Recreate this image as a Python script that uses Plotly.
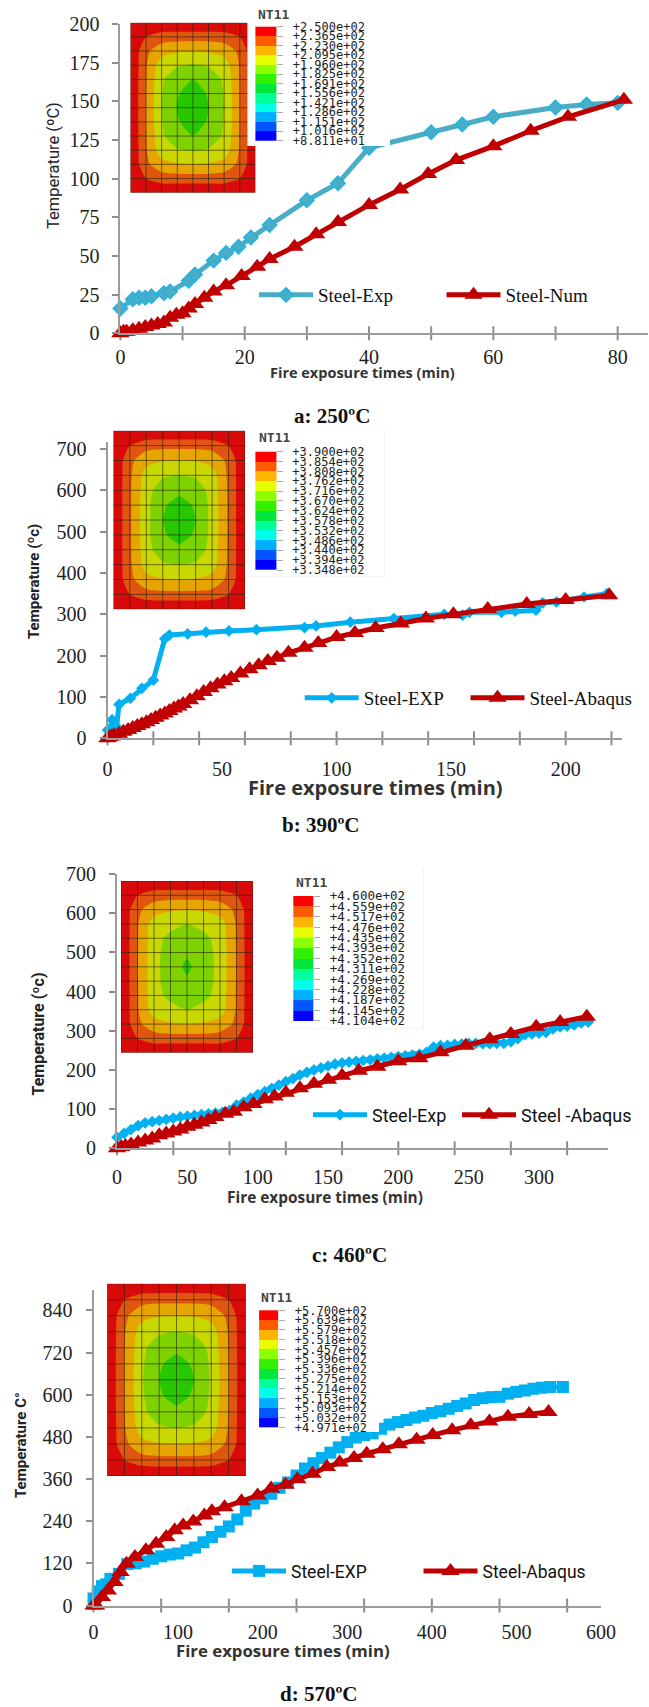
import plotly.graph_objects as go

W, H = 649, 1707

# ---------- data ----------
a_exp_t = [0,2,3,4,5,7,8,11,12,15,17,19,21,24,30,35,40,50,55,60,70,75,80]
a_exp_v = [16,22,23,23,24,26,27,34,38,47,52,56,62,70,86,97,120,130,135,140,146,148,149]
a_num_t = [0,0.5,1,2,3,4,5,6,7,8,9,10,11,12,13.5,15,17,19.5,22,24,28,31.5,35,40,45,49.5,54,60,66,72,81]
a_num_v = [0,1,1,2,3,4,5,6,7,10,12,13,16,19,23,27,31,37,43,48,56,64,72,83,93,103,112,121,131,140,151]

b_exp_t = [0,1,2,3,4,5,10,15,20,25,27,35,43,53,65,86,91,106,125,147,155,158,172,178,187,190,196,208,218]
b_exp_v = [20,22,45,25,28,82,97,121,141,241,250,253,257,260,263,268,272,281,290,300,298,305,305,308,310,328,330,342,350]
b_num_t = [0,1,2,3,5,7,9,11,13,15,17,19,21,23,25,27,29,31,33,36,39,42,45,48,51,54,58,62,66,70,74,79,86,92,100,108,117,128,139,151,166,183,200,219]
b_num_v = [0,3,5,7,11,16,20,25,30,34,39,44,50,55,60,66,72,77,83,92,102,112,121,130,138,146,157,167,177,187,195,207,219,231,245,255,267,278,290,300,313,325,335,346]

c_exp_t = [0,5,10,15,20,25,30,35,40,45,50,55,60,65,70,75,80,85,90,95,100,105,110,115,120,125,130,135,140,145,150,155,160,165,170,175,180,185,190,195,200,205,210,215,220,225,230,235,240,245,250,255,260,265,270,275,280,285,290,295,300,305,310,315,320,325,330,335]
c_exp_v = [28,38,48,58,65,68,71,74,77,80,82,84,86,88,90,92,97,110,118,128,137,145,153,161,170,178,187,194,200,205,210,215,218,220,222,224,226,228,230,232,234,236,238,240,245,258,262,263,265,266,268,268,267,267,268,268,272,280,290,292,294,296,305,310,312,315,320,322]
c_num_t = [0,3,6,10,15,20,25,30,35,40,45,50,55,60,65,70,77,83,90,97,105,112,120,130,140,150,160,172,185,200,215,230,248,265,280,298,315,334]
c_num_v = [0,3,6,10,15,20,25,33,38,43,48,55,60,66,72,80,88,93,105,113,125,132,142,153,165,175,185,198,208,222,230,245,262,278,292,310,322,336]

d_exp_t = [0,5,10,15,20,30,40,50,60,70,80,90,100,110,120,130,140,150,160,170,180,190,200,210,220,230,240,250,260,270,280,290,300,310,320,330,340,350,360,370,380,390,400,410,420,430,440,450,460,470,480,490,500,510,520,530,540,555]
d_exp_v = [20,40,55,60,76,90,118,120,125,133,140,145,148,157,165,180,195,210,225,245,270,290,305,318,335,350,370,390,405,420,435,450,465,478,485,490,503,515,522,528,535,540,548,553,560,568,575,585,590,593,594,603,608,612,617,620,622,622]
d_num_t = [0,3,10,17,25,32,39,49,62,74,86,96,106,118,131,140,155,175,194,210,227,241,259,276,291,308,323,342,361,382,401,424,446,468,490,515,538]
d_num_v = [0,0,24,43,67,95,119,138,157,176,195,214,228,239,256,268,280,297,313,333,344,359,375,394,407,420,432,445,459,472,485,499,513,524,537,545,551]

# legend scales (top to bottom)
a_scale = ["+2.500e+02","+2.365e+02","+2.230e+02","+2.095e+02","+1.960e+02","+1.825e+02","+1.691e+02","+1.556e+02","+1.421e+02","+1.286e+02","+1.151e+02","+1.016e+02","+8.811e+01"]
b_scale = ["+3.900e+02","+3.854e+02","+3.808e+02","+3.762e+02","+3.716e+02","+3.670e+02","+3.624e+02","+3.578e+02","+3.532e+02","+3.486e+02","+3.440e+02","+3.394e+02","+3.348e+02"]
c_scale = ["+4.600e+02","+4.559e+02","+4.517e+02","+4.476e+02","+4.435e+02","+4.393e+02","+4.352e+02","+4.311e+02","+4.269e+02","+4.228e+02","+4.187e+02","+4.145e+02","+4.104e+02"]
d_scale = ["+5.700e+02","+5.639e+02","+5.579e+02","+5.518e+02","+5.457e+02","+5.396e+02","+5.336e+02","+5.275e+02","+5.214e+02","+5.153e+02","+5.093e+02","+5.032e+02","+4.971e+02"]
band_colors = ["#ff0000","#ff5a00","#ffb400","#e6ff00","#8cff00","#32f000","#00e63c","#00ff96","#00ffe6","#00afff","#0055ff","#0000ff"]
band_index = [[0],[1],[2],[3],[4],[5],[6],[7],[8],[9],[10],[11]]

# section temperature bands read at mesh nodes (quarter section, edge to centre)
a_field = [[-.5,-.5,-.5,-.5,-.5],
           [-.5,.5,1.02,1.06,1.06],
           [-.5,1.3,2.1,2.4,2.45],
           [-.5,1.42,3.1,3.4,3.6],
           [-.5,1.47,3.35,4.2,4.5],
           [-.5,1.5,3.45,4.4,5.0],
           [-.5,1.5,3.5,4.55,5.4]]
b_field = [[-.5,-.5,-.5,-.5,-.5],
           [-.5,.5,1.12,1.2,1.2],
           [-.5,1.25,2.2,2.45,2.5],
           [-.5,1.32,2.95,3.35,3.5],
           [-.5,1.35,3.1,4.1,4.3],
           [-.5,1.35,3.2,4.4,4.8],
           [-.5,1.35,3.2,4.5,5.2]]
c_field = [[-.5,-.5,-.5,-.5,-.5],
           [-.5,.5,1.05,1.07,1.07],
           [-.5,1.3,2.05,2.4,2.48],
           [-.5,1.4,3.05,3.2,3.5],
           [-.5,1.42,3.15,3.75,3.95],
           [-.5,1.45,3.2,3.95,4.35],
           [-.5,1.45,3.2,4.0,4.7]]
d_field = [[-.5,-.5,-.5,-.5,-.5],
           [-.5,.5,1.12,1.2,1.2],
           [-.5,1.28,2.2,2.45,2.5],
           [-.5,1.42,3.0,3.35,3.5],
           [-.5,1.47,3.25,4.1,4.3],
           [-.5,1.5,3.35,4.4,4.8],
           [-.5,1.5,3.4,4.5,5.2]]
field_colors = ["#d80a0a","#e0550f","#e6a500","#c8d800","#7dd200","#28c800"]

RED = "#c00000"
SERIF = "Liberation Serif"
MONO = "DejaVu Sans Mono"

panels = [
 dict(key="a", exp=(a_exp_t,a_exp_v), num=(a_num_t,a_num_v), names=("Steel-Exp","Steel-Num"),
      X=(120.4,647.5), Y=(24,333.3), xr=(0,84.8), yr=(0,200),
      xmajor=[0,20,40,60,80], xticks=list(range(0,81,10)), ymajor=[0,25,50,75,100,125,150,175,200],
      exp_color="#4bacc6", mk_line="#1fb4e4", symbol="diamond", msize=11, tri=16, lw=5, tick=20, standoff=15, xstand=5,
      xt=("Fire exposure times (min)",362,373,14.5,True), yt=("Temperature (ºC)",54,166,16.5,False),
      cap=("a: 250ºC",332,415.7), leg=[(254,295),(441.5,295)], legfont=(SERIF,19),
      panel=((130.4,255.4),(22.7,192.7)), field=a_field, box=(255.4,276.3,26.7,140.7), white=(247.5,390,0,146), scale=a_scale,
      nt=(256,14), mono=12, frame=False),
 dict(key="b", exp=(b_exp_t,b_exp_v), num=(b_num_t,b_num_v), names=("Steel-EXP","Steel-Abaqus"),
      X=(107.5,622), Y=(441.7,738.3), xr=(0,224.6), yr=(0,718),
      xmajor=[0,50,100,150,200], xticks=list(range(0,221,20)), ymajor=[0,100,200,300,400,500,600,700],
      exp_color="#00b0f0", mk_line="#00b0f0", symbol="diamond", msize=9, tri=16, lw=5, tick=20, standoff=15, xstand=12,
      xt=("Fire exposure times (min)",375.7,787,20,True), yt=("Temperature (ºc)",34,582,15,True),
      cap=("b: 390ºC",321,825), leg=[(299.7,698),(465.5,698)], legfont=(SERIF,19),
      panel=((113.4,245),(430.7,609.3)), field=b_field, box=(255.4,275.9,451.7,570), white=(247.5,384.6,430,577), scale=b_scale,
      nt=(257,438), mono=12, frame=True),
 dict(key="c", exp=(c_exp_t,c_exp_v), num=(c_num_t,c_num_v), names=("Steel-Exp","Steel -Abaqus"),
      X=(117,607.5), Y=(874,1148.3), xr=(0,348.7), yr=(0,700),
      xmajor=[0,50,100,150,200,250,300,350], xticks=list(range(0,321,40)), ymajor=[0,100,200,300,400,500,600,700],
      exp_color="#00b0f0", mk_line="#00b0f0", symbol="diamond", msize=9, tri=16, lw=5, tick=20, standoff=15, xstand=10,
      xt=("Fire exposure times (min)",325,1197,15.4,True), yt=("Temperature (ºc)",37.5,1034,16,True),
      cap=("c: 460ºC",349,1255), leg=[(308,1115),(457,1115)], legfont=("Roboto",18),
      panel=((121,253),(881,1052.7)), field=c_field, box=(293.3,313.3,896,1020.7), white=(289,424,868,1029), scale=c_scale,
      nt=(294,882.7), mono=12.5, frame=True),
 dict(key="d", exp=(d_exp_t,d_exp_v), num=(d_num_t,d_num_v), names=("Steel-EXP","Steel-Abaqus"),
      X=(93.5,601), Y=(1290,1605.5), xr=(0,600), yr=(0,898),
      xmajor=[0,100,200,300,400,500,600], xticks=list(range(0,561,80)), ymajor=[0,120,240,360,480,600,720,840],
      exp_color="#00b0f0", mk_line="#00b0f0", symbol="square", msize=12, tri=16, lw=5, tick=20, standoff=15, xstand=7,
      xt=("Fire exposure times (min)",283,1650.5,16.8,True), yt=("Temperature C°",21,1445,15,True),
      cap=("d: 570ºC",319,1693.5), leg=[(227,1571),(418.5,1571)], legfont=("Roboto",17.5),
      panel=((107.1,245.9),(1283.7,1476)), field=d_field, box=(259.1,278.4,1310.3,1427.7), white=(250,379,1283,1432), scale=d_scale,
      nt=(259.1,1297), mono=12, frame=False),
]

def dx(a, b): return [a / W, b / W]
def dy(top, bot): return [1 - bot / H, 1 - top / H]

fig = go.Figure()
layout = dict(width=W, height=H, margin=dict(l=0, r=0, t=0, b=0, autoexpand=False), paper_bgcolor="white", plot_bgcolor="white",
              showlegend=True, annotations=[], shapes=[])
axis_n = 0
leg_n = 0

def new_axes():
    global axis_n
    axis_n += 1
    return "" if axis_n == 1 else str(axis_n)

for p in panels:
    # ---------- main chart ----------
    s = new_axes()
    layout["xaxis" + s] = dict(domain=dx(*p["X"]), range=list(p["xr"]), anchor="y" + s, showgrid=False, zeroline=False,
        showline=True, linecolor="#9c9c9c", linewidth=2,
        tickmode="array", tickvals=p["xmajor"], ticks="", ticklabelstandoff=p["xstand"],
        tickfont=dict(family=SERIF, size=p["tick"], color="#222"))
    layout["yaxis" + s] = dict(domain=dy(*p["Y"]), range=list(p["yr"]), anchor="x" + s, showgrid=False, zeroline=False,
        showline=True, linecolor="#9c9c9c", linewidth=2,
        tickmode="array", tickvals=p["ymajor"], ticks="outside", ticklen=6, tickwidth=1.5, tickcolor="#8c8c8c",
        ticklabelstandoff=p["standoff"] - 6,
        tickfont=dict(family=SERIF, size=p["tick"], color="#222"))
    # x tick marks crossing the axis line, spaced independently of the labels
    fig.add_trace(go.Scatter(x=p["xticks"], y=[0] * len(p["xticks"]), mode="markers", xaxis="x" + s, yaxis="y" + s,
        cliponaxis=False, showlegend=False, hoverinfo="skip",
        marker=dict(symbol="line-ns", size=10, line=dict(color="#8c8c8c", width=2))))
    for i, (series, name, color, mk, sym, size) in enumerate([
            (p["exp"], p["names"][0], p["exp_color"], p["mk_line"], p["symbol"], p["msize"]),
            (p["num"], p["names"][1], RED, RED, "triangle-up", p["tri"])]):
        leg_n += 1
        lid = "legend" if leg_n == 1 else f"legend{leg_n}"
        fig.add_trace(go.Scatter(x=series[0], y=series[1], name=name, mode="lines+markers",
            xaxis="x" + s, yaxis="y" + s, cliponaxis=False, legend=lid,
            line=dict(color=color, width=p["lw"]),
            marker=dict(symbol=sym, size=size, color=color, line=dict(color=mk, width=1.5 if i == 0 and p["key"] == "a" else 0))))
        lx, ly = p["leg"][i]
        layout[lid] = dict(x=lx / W, y=1 - ly / H, xanchor="left", yanchor="middle", bgcolor="rgba(0,0,0,0)", itemwidth=54,
                           font=dict(family=p["legfont"][0], size=p["legfont"][1], color="#111"))

    # ---------- section contour ----------
    s = new_axes()
    layout["xaxis" + s] = dict(domain=dx(*p["panel"][0]), range=[0, 8], anchor="y" + s, visible=False)
    layout["yaxis" + s] = dict(domain=dy(*p["panel"][1]), range=[0, 12], anchor="x" + s, visible=False)
    q = p["field"]
    half = [row + row[-2::-1] for row in q]
    z = half + half[-2::-1]
    n = len(field_colors)
    cs = []
    for i, c in enumerate(field_colors):
        cs += [[i / n, c], [(i + 1) / n, c]]
    fig.add_trace(go.Contour(z=z, x=list(range(9)), y=list(range(13)), xaxis="x" + s, yaxis="y" + s, showscale=False,
        autocontour=False, contours=dict(start=0.5, end=4.5, size=1, coloring="fill", showlines=False),
        zmin=-0.5, zmax=5.5, colorscale=cs, line=dict(width=0, smoothing=0.5), hoverinfo="skip", showlegend=False))
    mx, my = [], []
    for i in range(9):
        mx += [i, i, None]; my += [0, 12, None]
    for j in range(13):
        mx += [0, 8, None]; my += [j, j, None]
    fig.add_trace(go.Scatter(x=mx, y=my, mode="lines", xaxis="x" + s, yaxis="y" + s, cliponaxis=False, showlegend=False,
        line=dict(color="rgba(40,35,10,0.62)", width=1), hoverinfo="skip"))
    if p["frame"]:
        fig.add_trace(go.Scatter(x=[-0.1, 8.2, 8.2, -0.1], y=[12.05, 12.05, -0.3, -0.3], mode="lines", xaxis="x" + s, yaxis="y" + s,
            cliponaxis=False, showlegend=False, line=dict(color="#e6e6e6", width=1), hoverinfo="skip"))

    # ---------- scale box: axes span the white label area, bands fill part of it ----------
    s = new_axes()
    bx0, bx1, by0, by1 = p["box"]
    wx0, wx1, wy0, wy1 = p["white"]
    bw = bx1 - bx0
    per = (by1 - by0) / 12
    xlo, xhi = (wx0 - bx0) / bw, (wx1 - bx0) / bw
    ylo, yhi = (by1 - wy1) / per, (by1 - wy0) / per
    layout["xaxis" + s] = dict(domain=dx(wx0, wx1), range=[xlo, xhi], anchor="y" + s, visible=False)
    layout["yaxis" + s] = dict(domain=dy(wy0, wy1), range=[ylo, yhi], anchor="free", position=bx1 / W, side="right",
        showgrid=False, zeroline=False, showline=False,
        tickmode="array", tickvals=list(range(13)), ticktext=p["scale"][::-1],
        ticks="outside", ticklen=6, tickwidth=1, tickcolor="#aaaaaa", ticklabelstandoff=7,
        tickfont=dict(family=MONO, size=p["mono"], color="#222"))
    fig.add_trace(go.Heatmap(z=[[0]], x=[xlo, xhi], y=[ylo, yhi], xaxis="x" + s, yaxis="y" + s, zmin=0, zmax=1,
        colorscale=[[0, "white"], [1, "white"]], showscale=False, hoverinfo="skip"))
    if p["frame"]:
        fig.add_trace(go.Scatter(x=[xhi, xhi, xlo], y=[yhi, ylo, ylo], mode="lines", xaxis="x" + s, yaxis="y" + s,
            cliponaxis=False, showlegend=False, line=dict(color="#e6e6e6", width=1), hoverinfo="skip"))
    n = len(band_colors)
    cs = []
    for i, c in enumerate(band_colors[::-1]):
        cs += [[i / n, c], [(i + 1) / n, c]]
    fig.add_trace(go.Heatmap(z=band_index, x0=0.5, dx=1, y0=0.5, dy=1, xaxis="x" + s, yaxis="y" + s, zmin=-0.5, zmax=11.5,
        colorscale=cs, showscale=False, hoverinfo="skip"))
    layout["annotations"].append(dict(text="<b>NT11</b>", x=p["nt"][0] / W, y=1 - p["nt"][1] / H, xref="paper", yref="paper",
        xanchor="left", yanchor="middle", showarrow=False, font=dict(family=MONO, size=13, color="#444")))

    # ---------- titles ----------
    t, x, y, size, bold = p["xt"]
    layout["annotations"].append(dict(text=f"<b>{t}</b>" if bold else t, x=x / W, y=1 - y / H, xref="paper", yref="paper",
        xanchor="center", yanchor="middle", showarrow=False, font=dict(family="Open Sans", size=size, color="#333")))
    t, x, y, size, bold = p["yt"]
    layout["annotations"].append(dict(text=f"<b>{t}</b>" if bold else t, x=x / W, y=1 - y / H, xref="paper", yref="paper",
        xanchor="center", yanchor="middle", textangle=-90, showarrow=False, font=dict(family="Roboto", size=size, color="#222")))
    t, x, y = p["cap"]
    layout["annotations"].append(dict(text=f"<b>{t}</b>", x=x / W, y=1 - y / H, xref="paper", yref="paper",
        xanchor="center", yanchor="middle", showarrow=False, font=dict(family=SERIF, size=21, color="#111")))

fig.update_layout(**layout)
fig.write_html("out.html", config={"displayModeBar": False},
               post_script="document.body.style.margin='0';document.body.style.overflow='hidden';")
